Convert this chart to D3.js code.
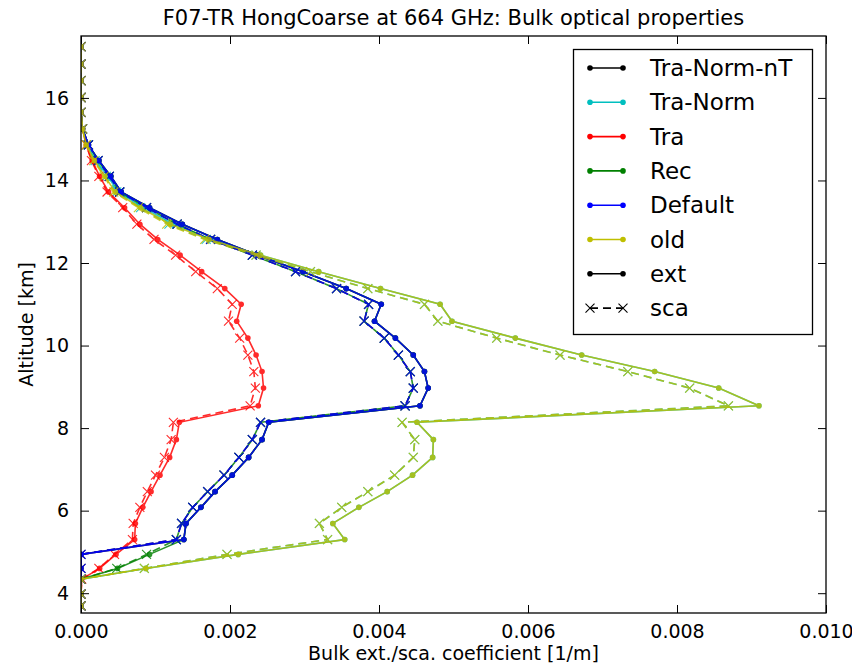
<!DOCTYPE html>
<html>
<head>
<meta charset="utf-8">
<script src="https://cdn.jsdelivr.net/npm/d3@7"></script>
<style>
  body { margin: 0; background: #fff; }
  text { font-family: "DejaVu Sans", sans-serif; fill: #000; }
</style>
</head>
<body>
<script>
// altitude levels [km], bottom to top
const altitude = [3.69, 3.98, 4.34, 4.60, 4.94, 5.30, 5.69, 6.08, 6.46, 6.86, 7.29, 7.72,
  8.14, 8.54, 8.97, 9.37, 9.77, 10.18, 10.59, 11.00, 11.38, 11.79, 12.19, 12.57,
  12.94, 13.34, 13.72, 14.10, 14.48, 14.86, 15.25, 15.65, 16.01, 16.42, 16.82, 17.24];

// coefficients in units of 1e-3 1/m
const traNormNtExt = [0, 0, 0, 0, 0, 1.38, 1.41, 1.61, 1.80, 2.03, 2.25, 2.43,
  2.52, 4.55, 4.66, 4.61, 4.46, 4.22, 3.94, 4.03, 3.56, 2.98, 2.37, 1.83,
  1.36, 0.92, 0.54, 0.40, 0.24, 0.10, 0.02, 0, 0, 0, 0, 0];
const traNormNtSca = [0, 0, 0, 0, 0, 1.28, 1.35, 1.50, 1.70, 1.92, 2.12, 2.30,
  2.41, 4.35, 4.46, 4.42, 4.26, 4.07, 3.80, 3.86, 3.43, 2.88, 2.30, 1.74,
  1.29, 0.88, 0.52, 0.38, 0.23, 0.10, 0.02, 0, 0, 0, 0, 0];
const traNormExt = [0, 0, 0, 0.87, 2.11, 3.54, 3.38, 3.73, 4.11, 4.45, 4.72, 4.73,
  4.51, 9.10, 8.56, 7.70, 6.72, 5.83, 4.98, 4.82, 4.02, 3.19, 2.41, 1.74,
  1.24, 0.84, 0.50, 0.36, 0.20, 0.08, 0.02, 0, 0, 0, 0, 0];
const traNormSca = [0, 0, 0, 0.85, 1.96, 3.31, 3.20, 3.50, 3.85, 4.21, 4.46, 4.48,
  4.31, 8.69, 8.17, 7.34, 6.43, 5.58, 4.79, 4.61, 3.85, 3.08, 2.35, 1.68,
  1.18, 0.80, 0.48, 0.34, 0.19, 0.08, 0.02, 0, 0, 0, 0, 0];
const traExt = [0, 0, 0.01, 0.25, 0.47, 0.72, 0.73, 0.83, 0.94, 1.06, 1.19, 1.28,
  1.32, 2.38, 2.45, 2.43, 2.35, 2.24, 2.09, 2.15, 1.93, 1.62, 1.33, 1.03,
  0.79, 0.585, 0.37, 0.25, 0.15, 0.07, 0.02, 0, 0, 0, 0, 0];
const traSca = [0, 0, 0.01, 0.24, 0.45, 0.69, 0.70, 0.79, 0.89, 1.00, 1.12, 1.21,
  1.24, 2.27, 2.34, 2.32, 2.24, 2.13, 1.98, 2.03, 1.83, 1.54, 1.27, 0.98,
  0.75, 0.56, 0.35, 0.24, 0.14, 0.07, 0.02, 0, 0, 0, 0, 0];
const recExt = [0, 0, 0, 0.49, 0.92, 1.38, 1.41, 1.61, 1.80, 2.03, 2.25, 2.43,
  2.52, 4.55, 4.66, 4.61, 4.46, 4.22, 3.94, 4.03, 3.56, 2.98, 2.37, 1.83,
  1.36, 0.92, 0.54, 0.40, 0.24, 0.10, 0.02, 0, 0, 0, 0, 0];
const recSca = [0, 0, 0, 0.48, 0.88, 1.28, 1.35, 1.50, 1.70, 1.92, 2.12, 2.30,
  2.41, 4.35, 4.46, 4.42, 4.26, 4.07, 3.80, 3.86, 3.43, 2.88, 2.30, 1.74,
  1.29, 0.88, 0.52, 0.38, 0.23, 0.10, 0.02, 0, 0, 0, 0, 0];
const defaultExt = [0, 0, 0, 0, 0, 1.38, 1.41, 1.61, 1.80, 2.03, 2.25, 2.43,
  2.52, 4.55, 4.66, 4.61, 4.46, 4.22, 3.94, 4.03, 3.56, 2.98, 2.37, 1.83,
  1.36, 0.92, 0.54, 0.40, 0.24, 0.10, 0.02, 0, 0, 0, 0, 0];
const defaultSca = [0, 0, 0, 0, 0, 1.28, 1.35, 1.50, 1.70, 1.92, 2.12, 2.30,
  2.41, 4.35, 4.46, 4.42, 4.26, 4.07, 3.80, 3.86, 3.43, 2.88, 2.30, 1.74,
  1.29, 0.88, 0.52, 0.38, 0.23, 0.10, 0.02, 0, 0, 0, 0, 0];
const oldExt = [0, 0, 0, 0.87, 2.11, 3.54, 3.38, 3.73, 4.11, 4.45, 4.72, 4.73,
  4.51, 9.10, 8.56, 7.70, 6.72, 5.83, 4.98, 4.82, 4.02, 3.19, 2.41, 1.72,
  1.20, 0.80, 0.46, 0.32, 0.18, 0.07, 0.02, 0, 0, 0, 0, 0];
const oldSca = [0, 0, 0, 0.85, 1.96, 3.31, 3.20, 3.50, 3.85, 4.21, 4.46, 4.48,
  4.31, 8.69, 8.17, 7.34, 6.43, 5.58, 4.79, 4.61, 3.85, 3.08, 2.35, 1.66,
  1.15, 0.77, 0.44, 0.31, 0.17, 0.07, 0.02, 0, 0, 0, 0, 0];

const seriesNames = ["Tra-Norm-nT", "Tra-Norm", "Tra", "Rec", "Default", "old"];
const seriesColors = ["#000000", "#00bfbf", "#ff0000", "#008000", "#0000ff", "#bfbf00"];
const extData = [traNormNtExt, traNormExt, traExt, recExt, defaultExt, oldExt];
const scaData = [traNormNtSca, traNormSca, traSca, recSca, defaultSca, oldSca];

const xTicks = [0, 0.002, 0.004, 0.006, 0.008, 0.010];
const yTicks = [4, 6, 8, 10, 12, 14, 16];

const width = 852, height = 671;
const margin = {top: 36, right: 26, bottom: 58, left: 81};
const alpha = 0.83;

const svg = d3.select("body").append("svg")
    .attr("width", width)
    .attr("height", height);

const x = d3.scaleLinear().domain([0, 0.010]).range([margin.left, width - margin.right]);
const y = d3.scaleLinear().domain([3.52, 17.5]).range([height - margin.bottom, margin.top]);

// clip to the axes box
svg.append("clipPath").attr("id", "clip")
  .append("rect")
    .attr("x", margin.left).attr("y", margin.top)
    .attr("width", width - margin.left - margin.right)
    .attr("height", height - margin.top - margin.bottom);

const plot = svg.append("g").attr("clip-path", "url(#clip)");

const line = d3.line()
    .x(d => x(d[0] * 1e-3))
    .y(d => y(d[1]));

function xMark(g, pts, color) {
  g.selectAll(null)
    .data(pts)
    .join("path")
      .attr("d", d => {
        const cx = x(d[0] * 1e-3), cy = y(d[1]), s = 4.5;
        return `M${cx - s},${cy - s}L${cx + s},${cy + s}M${cx - s},${cy + s}L${cx + s},${cy - s}`;
      })
      .attr("stroke", color)
      .attr("stroke-width", 1.1)
      .attr("fill", "none");
}

seriesNames.forEach((name, i) => {
  const color = seriesColors[i];
  const ext = extData[i].map((v, k) => [v, altitude[k]]);
  const sca = scaData[i].map((v, k) => [v, altitude[k]]);

  const ge = plot.append("g").attr("opacity", alpha);
  ge.append("path")
      .attr("d", line(ext))
      .attr("fill", "none")
      .attr("stroke", color)
      .attr("stroke-width", 1.6);
  ge.selectAll("circle")
    .data(ext)
    .join("circle")
      .attr("cx", d => x(d[0] * 1e-3))
      .attr("cy", d => y(d[1]))
      .attr("r", 2.8)
      .attr("fill", color);

  const gs = plot.append("g").attr("opacity", alpha);
  gs.append("path")
      .attr("d", line(sca))
      .attr("fill", "none")
      .attr("stroke", color)
      .attr("stroke-width", 1.6)
      .attr("stroke-dasharray", "8,5");
  xMark(gs, sca, color);
});

// axes
const tickLen = 8;
const xAxisB = d3.axisBottom(x).tickValues(xTicks).tickFormat(d3.format(".3f")).tickSizeInner(-tickLen).tickSizeOuter(0).tickPadding(12);
const xAxisT = d3.axisTop(x).tickValues(xTicks).tickFormat("").tickSizeInner(-tickLen).tickSizeOuter(0);
const yAxisL = d3.axisLeft(y).tickValues(yTicks).tickSizeInner(-tickLen).tickSizeOuter(0).tickPadding(12);
const yAxisR = d3.axisRight(y).tickValues(yTicks).tickFormat("").tickSizeInner(-tickLen).tickSizeOuter(0);

const axes = [
  svg.append("g").attr("transform", `translate(0,${height - margin.bottom})`).call(xAxisB),
  svg.append("g").attr("transform", `translate(0,${margin.top})`).call(xAxisT),
  svg.append("g").attr("transform", `translate(${margin.left},0)`).call(yAxisL),
  svg.append("g").attr("transform", `translate(${width - margin.right},0)`).call(yAxisR)
];
axes.forEach(a => {
  a.select(".domain").remove();
  a.selectAll("line").attr("stroke", "#000").attr("stroke-width", 1);
  a.selectAll("text").attr("font-size", 19).attr("font-family", "DejaVu Sans").attr("fill", "#000");
});

svg.append("rect")
    .attr("x", margin.left).attr("y", margin.top)
    .attr("width", width - margin.left - margin.right)
    .attr("height", height - margin.top - margin.bottom)
    .attr("fill", "none")
    .attr("stroke", "#000")
    .attr("stroke-width", 1.3);

// title and labels
svg.append("text")
    .attr("x", (margin.left + width - margin.right) / 2)
    .attr("y", 25)
    .attr("text-anchor", "middle")
    .attr("font-size", 21)
    .text("F07-TR HongCoarse at 664 GHz: Bulk optical properties");

svg.append("text")
    .attr("x", (margin.left + width - margin.right) / 2)
    .attr("y", 660)
    .attr("text-anchor", "middle")
    .attr("font-size", 19)
    .text("Bulk ext./sca. coefficient [1/m]");

svg.append("text")
    .attr("transform", `translate(33,${(margin.top + height - margin.bottom) / 2}) rotate(-90)`)
    .attr("text-anchor", "middle")
    .attr("font-size", 19)
    .text("Altitude [km]");

// legend
const legendItems = seriesNames.map((n, i) => ({label: n, color: seriesColors[i], dash: false, mark: "dot"}))
  .concat([{label: "ext", color: "#000", dash: false, mark: "dot"},
           {label: "sca", color: "#000", dash: true, mark: "x"}]);

const lg = svg.append("g");
lg.append("rect")
    .attr("x", 573.5).attr("y", 49.5)
    .attr("width", 239).attr("height", 285)
    .attr("fill", "#fff")
    .attr("stroke", "#000")
    .attr("stroke-width", 1.3);

legendItems.forEach((it, i) => {
  const cy = 68 + i * 34.3;
  const row = lg.append("g");
  row.append("line")
      .attr("x1", 590).attr("x2", 623)
      .attr("y1", cy).attr("y2", cy)
      .attr("stroke", it.color)
      .attr("stroke-width", 1.6)
      .attr("stroke-dasharray", it.dash ? "8,5" : null);
  [590, 623].forEach(px => {
    if (it.mark === "dot") {
      row.append("circle").attr("cx", px).attr("cy", cy).attr("r", 2.8).attr("fill", it.color);
    } else {
      const s = 4.5;
      row.append("path")
          .attr("d", `M${px - s},${cy - s}L${px + s},${cy + s}M${px - s},${cy + s}L${px + s},${cy - s}`)
          .attr("stroke", it.color).attr("stroke-width", 1.1);
    }
  });
  row.append("text")
      .attr("x", 650)
      .attr("y", cy)
      .attr("dy", "0.35em")
      .attr("font-size", 23)
      .text(it.label);
});
</script>
</body>
</html>
